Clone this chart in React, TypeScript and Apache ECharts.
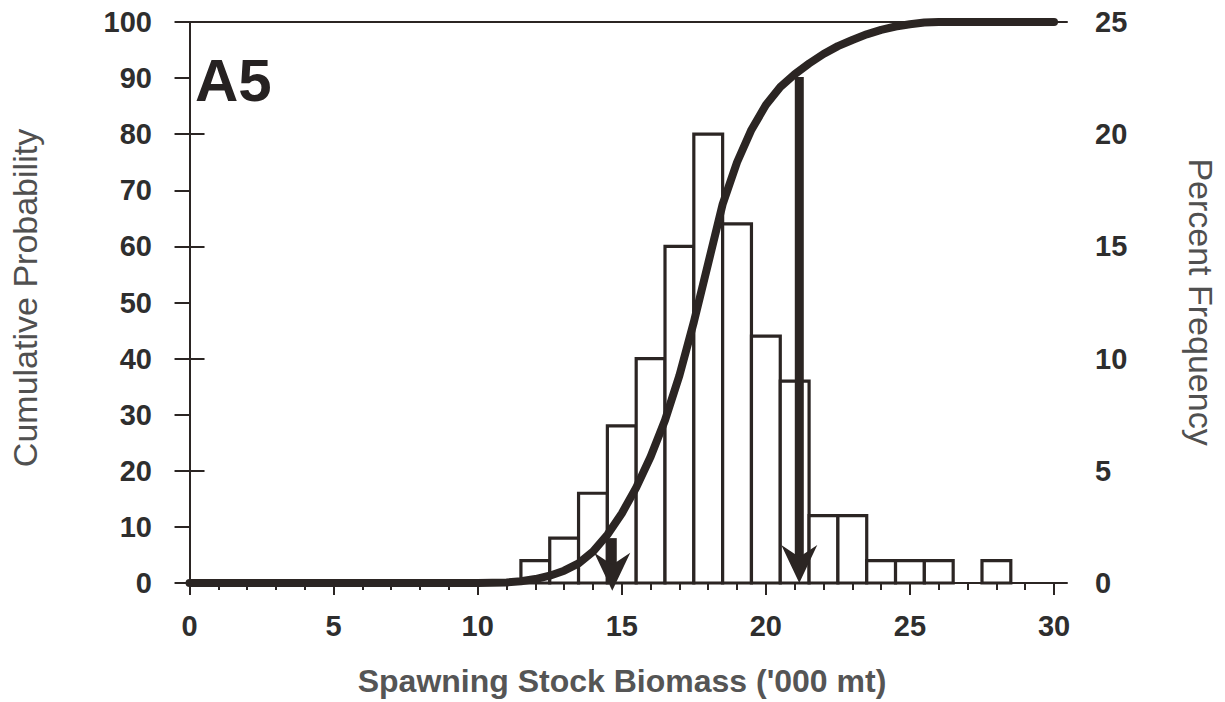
import React, { useEffect, useRef } from "react";
import * as echarts from "echarts";

// Histogram: percent frequency by biomass class ('000 mt)
const histX = [12, 13, 14, 15, 16, 17, 18, 19, 20, 21, 22, 23, 24, 25, 26, 28];
const histPct = [1, 2, 4, 7, 10, 15, 20, 16, 11, 9, 3, 3, 1, 1, 1, 1];

// Cumulative probability curve
const cumX = [0, 5, 10, 11, 11.5, 12, 12.5, 13, 13.5, 14, 14.5, 15, 15.5, 16, 16.5, 17, 17.5, 18, 18.5, 19, 19.5, 20, 20.5, 21, 21.5, 22, 22.5, 23, 23.5, 24, 24.5, 25, 25.5, 26, 27, 30];
const cumY = [0, 0, 0, 0.1, 0.3, 0.7, 1.3, 2.2, 3.5, 5.6, 8.6, 12.4, 17, 22.5, 29, 37, 46.5, 57, 67.5, 75, 80.8, 85.2, 88.4, 90.7, 92.6, 94.3, 95.7, 96.8, 97.8, 98.6, 99.2, 99.6, 99.9, 100, 100, 100];

// Arrows (x position, start value, tip value) on cumulative scale
const arrowX = [14.67, 21.16];
const arrowTop = [8, 90.2];
const arrowTip = [-1.4, 0];

const xTicks = Array.from({ length: 31 }, (_, i) => i);
const xMajor = [0, 5, 10, 15, 20, 25, 30];

const INK = "#2b2523";
const FONT = "'Liberation Sans', Arial, sans-serif";

export default function App() {
  const ref = useRef<HTMLDivElement>(null);
  useEffect(() => {
    if (!ref.current) return;
    const chart = echarts.init(ref.current, null, { renderer: "svg" });
    const xRange = { min: -0.4, max: 30.45 };
    const tickLabel = { fontFamily: FONT, fontSize: 29, fontWeight: "bold" as const, color: "#2e2e2e" };
    chart.setOption({
      animation: false,
      backgroundColor: "#ffffff",
      grid: { left: 178, right: 158, top: 22, bottom: 119, containLabel: false },
      xAxis: [
        {
          type: "value", position: "bottom", ...xRange,
          axisLine: { show: true, lineStyle: { color: INK, width: 2 } },
          axisTick: { show: true, customValues: xTicks, length: 7, lineStyle: { color: INK, width: 2 } },
          axisLabel: { show: false },
          splitLine: { show: false },
        },
        {
          type: "value", position: "bottom", ...xRange,
          axisLine: { show: false },
          axisTick: { show: true, customValues: xMajor, length: 12, lineStyle: { color: INK, width: 2 } },
          axisLabel: { show: true, customValues: xMajor, margin: 28, ...tickLabel },
          splitLine: { show: false },
        },
        {
          type: "value", position: "top", ...xRange,
          axisLine: { show: true, lineStyle: { color: INK, width: 2 } },
          axisTick: { show: false },
          axisLabel: { show: false },
          splitLine: { show: false },
        },
      ],
      yAxis: [
        {
          type: "value", position: "left", min: 0, max: 100, interval: 10,
          axisLine: { show: true, lineStyle: { color: INK, width: 2 } },
          axisTick: { show: true, length: 15, lineStyle: { color: INK, width: 2 } },
          axisLabel: { margin: 26, ...tickLabel },
          splitLine: { show: false },
        },
        {
          type: "value", position: "right", min: 0, max: 25, interval: 5,
          axisLine: { show: true, lineStyle: { color: INK, width: 2 } },
          axisTick: { show: true, length: 15, lineStyle: { color: INK, width: 2 } },
          axisLabel: { margin: 28, ...tickLabel },
          splitLine: { show: false },
        },
      ],
      series: [
        {
          type: "custom",
          xAxisIndex: 0,
          yAxisIndex: 1,
          clip: false,
          z: 2,
          data: histX.map((x, i) => [x, histPct[i]]),
          encode: { x: 0, y: 1 },
          renderItem: (params: any, api: any) => {
            const x = api.value(0);
            const h = api.value(1);
            const p0 = api.coord([x - 0.5, 0]);
            const p1 = api.coord([x + 0.5, h]);
            return {
              type: "rect",
              shape: { x: p0[0], y: p1[1], width: p1[0] - p0[0], height: p0[1] - p1[1] },
              style: { fill: "#ffffff", stroke: INK, lineWidth: 3.2 },
            };
          },
        },
        {
          type: "line",
          xAxisIndex: 0,
          yAxisIndex: 0,
          z: 3,
          data: cumX.map((x, i) => [x, cumY[i]]),
          symbol: "none",
          smooth: false,
          clip: false,
          lineStyle: { color: INK, width: 8, cap: "round", join: "round" },
        },
        {
          type: "custom",
          xAxisIndex: 0,
          yAxisIndex: 0,
          clip: false,
          z: 4,
          data: arrowX.map((x, i) => [x, arrowTop[i], arrowTip[i]]),
          encode: { x: 0, y: 1 },
          renderItem: (params: any, api: any) => {
            const x = api.value(0);
            const top = api.coord([x, api.value(1)]);
            const tip = api.coord([x, api.value(2)]);
            const cx = top[0];
            const hl = 38;
            const hw = 18;
            return {
              type: "group",
              children: [
                {
                  type: "line",
                  shape: { x1: cx, y1: top[1], x2: cx, y2: tip[1] - 20 },
                  style: { stroke: INK, lineWidth: 9 },
                },
                {
                  type: "polygon",
                  shape: {
                    points: [
                      [cx, tip[1]],
                      [cx - hw, tip[1] - hl],
                      [cx, tip[1] - hl + 12],
                      [cx + hw, tip[1] - hl],
                    ],
                  },
                  style: { fill: INK },
                },
              ],
            };
          },
        },
      ],
      graphic: [
        {
          type: "text", left: 195, top: 50,
          style: { text: "A5", font: `bold 60px ${FONT}`, fill: "#262222" },
        },
        {
          type: "text", x: 25, y: 298, rotation: Math.PI / 2,
          style: { text: "Cumulative Probability", font: `34px ${FONT}`, fill: "#505050", textAlign: "center", textVerticalAlign: "middle" },
        },
        {
          type: "text", x: 1201, y: 302, rotation: -Math.PI / 2,
          style: { text: "Percent Frequency", font: `34px ${FONT}`, fill: "#505050", textAlign: "center", textVerticalAlign: "middle" },
        },
        {
          type: "text", x: 622, y: 681,
          style: { text: "Spawning Stock Biomass ('000 mt)", font: `bold 32px ${FONT}`, fill: "#555555", textAlign: "center", textVerticalAlign: "middle" },
        },
      ],
    });
    return () => chart.dispose();
  }, []);
  return (
    <div
      ref={ref}
      style={{ position: "fixed", left: 0, top: 0, width: 1225, height: 702, background: "#ffffff" }}
    />
  );
}
